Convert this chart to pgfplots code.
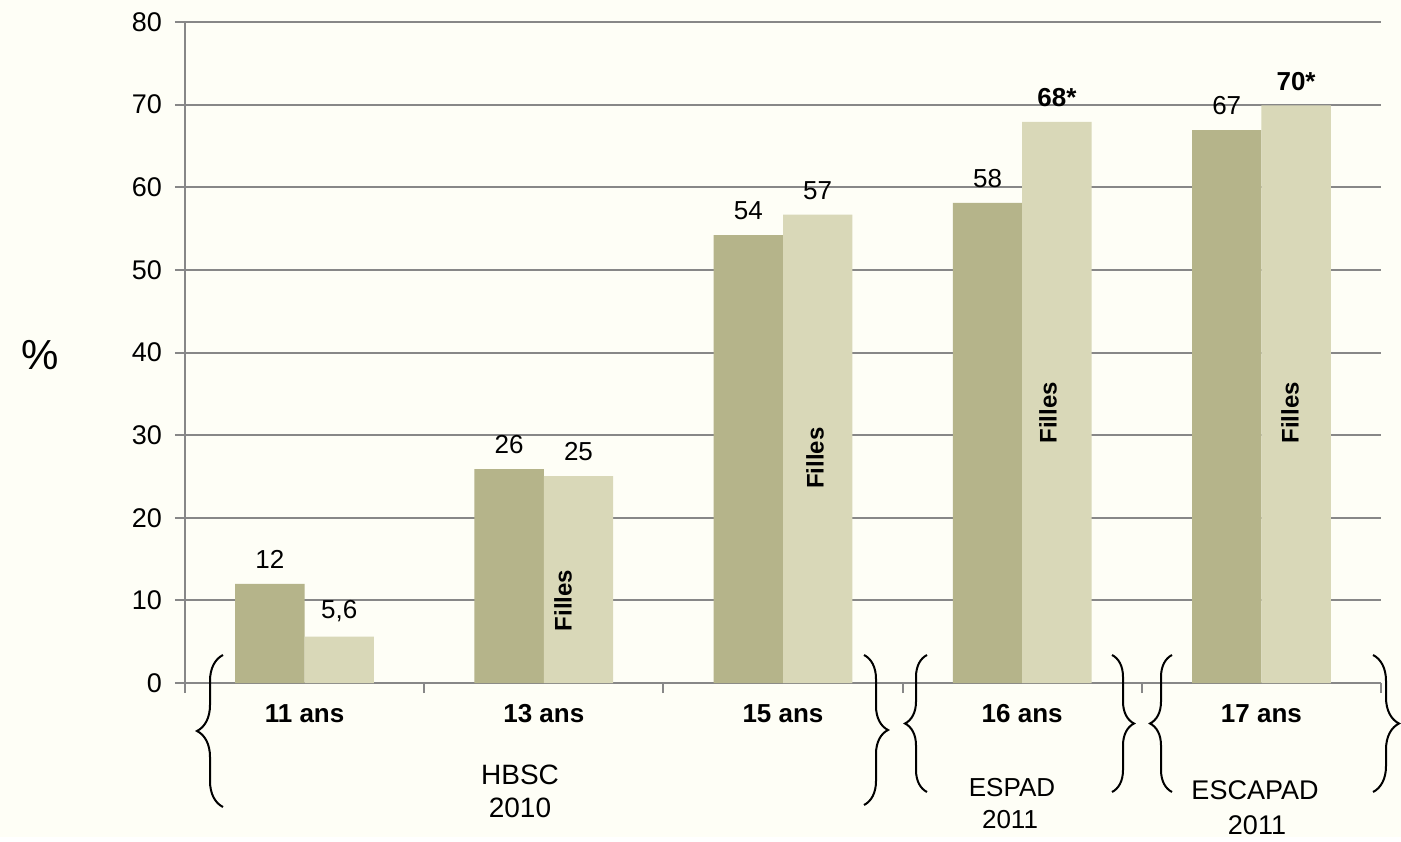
\documentclass[border=0pt]{standalone}
\usepackage{fontspec}
\setmainfont{Liberation Sans}
\usepackage{pgfplots}
\pgfplotsset{compat=1.18}
\usetikzlibrary{decorations.pathreplacing}
\definecolor{bg}{RGB}{254,254,246}
\definecolor{darkbar}{RGB}{181,180,138}
\definecolor{lightbar}{RGB}{217,216,184}
\definecolor{gridc}{RGB}{135,135,135}
\begin{document}
\begin{tikzpicture}
\begin{scope}[x=0.5pt,y=-0.5pt,shift={(-92.5pt,341.5pt)}]
\fill[bg] (0,0) rectangle (1401,837);
\path[use as bounding box] (0,0) rectangle (1401,837);
\end{scope}
\begin{axis}[
  at={(0pt,0pt)}, anchor=south west,
  scale only axis, width=598pt, height=330.5pt,
  xmin=-0.5, xmax=4.5, ymin=0, ymax=80,
  axis lines*=left,
  axis line style={gridc, line width=1pt},
  every tick/.style={gridc, line width=1pt},
  tick align=outside,
  major tick length=5pt,
  ytick={0,10,...,80},
  ymajorgrids, major grid style={gridc, line width=1pt},
  xtick={-0.5,0.5,1.5,2.5,3.5,4.5}, xticklabels={},
  extra x ticks={0,1,2,3,4},
  extra x tick labels={11 ans,13 ans,15 ans,16 ans,17 ans},
  extra x tick style={major tick length=0pt, ticklabel style={font=\bfseries\fontsize{13}{15}\selectfont, text height=9.5pt, text depth=0pt, yshift=-6.5pt}},
  yticklabel style={font=\fontsize{13.5}{15}\selectfont, xshift=-3pt},
  /pgf/number format/assume math mode=true,
  clip=false,
  ybar=0pt, bar width=0.29,
  nodes near coords, point meta=explicit symbolic,
  every node near coord/.append style={font=\fontsize{13}{15}\selectfont, yshift=4pt, black},
]
\addplot[ybar, bar shift=-0.145, fill=darkbar, draw=none] coordinates {
  (0,12) [12] (1,25.9) [26] (2,54.2) [54] (3,58.1) [58] (4,66.9) [67]
};
\addplot[ybar, bar shift=0.145, fill=lightbar, draw=none] coordinates {
  (0,5.6) [{5,6}] (1,25.05) [25] (2,56.7) [57] (3,67.9) [\textbf{68*}] (4,69.9) [\textbf{70*}]
};
\node[rotate=90, font=\bfseries\fontsize{12}{14}\selectfont] at (axis cs:1.080,10.0) {Filles};
\node[rotate=90, font=\bfseries\fontsize{12}{14}\selectfont] at (axis cs:2.134,27.2) {Filles};
\node[rotate=90, font=\bfseries\fontsize{12}{14}\selectfont] at (axis cs:3.108,32.7) {Filles};
\node[rotate=90, font=\bfseries\fontsize{12}{14}\selectfont] at (axis cs:4.120,32.7) {Filles};
\end{axis}
\begin{scope}[x=0.5pt,y=-0.5pt,shift={(-92.5pt,341.5pt)}]
\node[font=\fontsize{21}{24}\selectfont] at (40,355) {\%};
\draw[line width=1pt, decorate, decoration={brace, amplitude=13pt}] (223,807) -- (223,655);
\draw[line width=1pt, decorate, decoration={brace, amplitude=12pt}] (864,655) -- (864,805);
\draw[line width=1pt, decorate, decoration={brace, amplitude=11pt}] (927,792) -- (927,655);
\draw[line width=1pt, decorate, decoration={brace, amplitude=11pt}] (1112,655) -- (1112,792);
\draw[line width=1pt, decorate, decoration={brace, amplitude=11pt}] (1172,792) -- (1172,655);
\draw[line width=1pt, decorate, decoration={brace, amplitude=13pt}] (1373,655) -- (1373,792);
\node[font=\fontsize{14}{16}\selectfont] at (520,775) {HBSC};
\node[font=\fontsize{14}{16}\selectfont] at (520,808) {2010};
\node[font=\fontsize{13}{15}\selectfont] at (1012,788) {ESPAD};
\node[font=\fontsize{13}{15}\selectfont] at (1010,820) {2011};
\node[font=\fontsize{13.5}{16}\selectfont] at (1255,790) {ESCAPAD};
\node[font=\fontsize{13.5}{16}\selectfont] at (1257,825) {2011};
\end{scope}
\end{tikzpicture}
\end{document}
